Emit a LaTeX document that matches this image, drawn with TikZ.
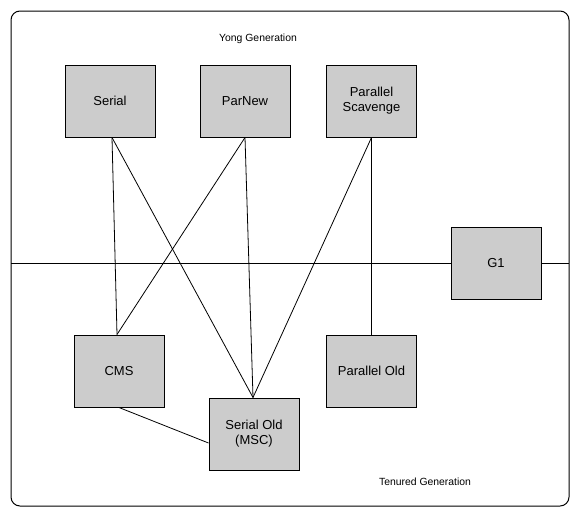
\documentclass[tikz,border=0pt]{standalone}
\usepackage{fontspec}
\setmainfont{Liberation Sans}
\definecolor{boxgray}{HTML}{CCCCCC}
\begin{document}
\begin{tikzpicture}[x=1pt,y=-1pt,
  gcbox/.style={draw=black, line width=1pt, fill=boxgray, minimum width=90pt, minimum height=72pt, inner sep=0pt, align=center, font=\fontsize{13}{15}\selectfont},
  lbl/.style={font=\fontsize{10.4}{12}\selectfont, inner sep=0pt},
  link/.style={draw=black, line width=0.8pt}]
\useasboundingbox (0,0) rectangle (580,517);
\draw[line width=1pt, rounded corners=9pt] (11,11) rectangle (569,506);
\node[lbl] (yong) at (258,39) {Yong Generation};
\node[lbl] (ten) at (425,482) {Tenured Generation};
\coordinate (hl) at (11,263);
\coordinate (hr) at (569,263);
\node[gcbox] (serial) at (110,101) {Serial};
\node[gcbox] (parnew) at (245,101) {ParNew};
\node[gcbox] (ps) at (371.5,101) {Parallel\\Scavenge};
\node[gcbox] (g1) at (496,263) {G1};
\node[gcbox] (cms) at (119,371) {CMS};
\node[gcbox] (so) at (254,434) {Serial Old\\(MSC)};
\node[gcbox] (po) at (371.5,371) {Parallel Old};
\draw[link] (hl) -- (g1.west);
\draw[link] (g1.east) -- (hr);
\draw[link] ([xshift=2pt]serial.south) -- ([xshift=-2pt]cms.north);
\draw[link] ([xshift=2pt]serial.south) -- ([xshift=-1pt]so.north);
\draw[link] (parnew.south) -- ([xshift=-2pt]cms.north);
\draw[link] (parnew.south) -- ([xshift=-1pt]so.north);
\draw[link] (ps.south) -- ([xshift=-1pt]so.north);
\draw[link] (ps.south) -- (po.north);
\draw[link] (cms.south) -- ([yshift=-9pt]so.west);
\end{tikzpicture}
\end{document}
